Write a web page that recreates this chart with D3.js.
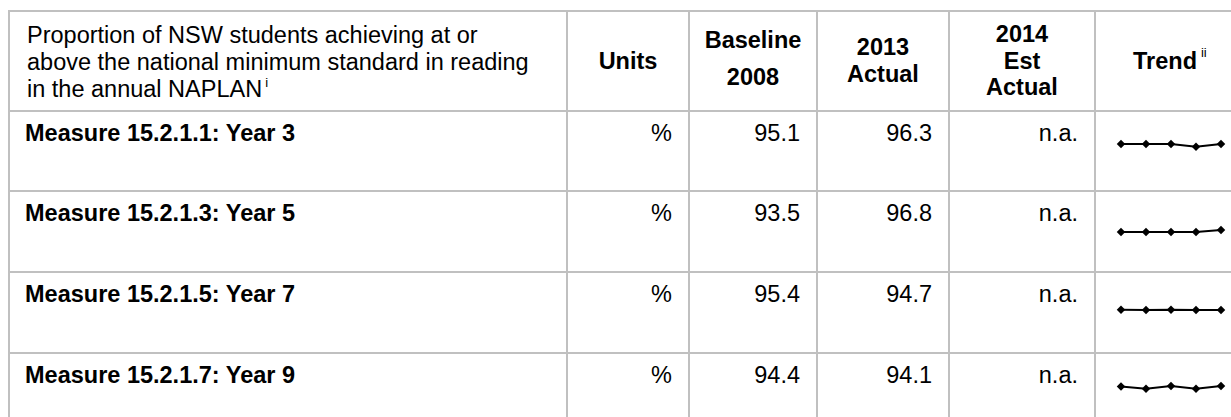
<!DOCTYPE html>
<html>
<head>
<meta charset="utf-8">
<script src="https://cdn.jsdelivr.net/npm/d3@7"></script>
<style>
  html, body { margin: 0; padding: 0; background: #fff; }
  svg { display: block; font-family: "Liberation Sans", Arial, sans-serif; }
</style>
</head>
<body>
<svg id="chart" width="1231" height="417"></svg>
<script>
// ---------- data ----------
const headerTitle = ["Proportion of NSW students achieving at or",
                     "above the national minimum standard in reading",
                     "in the annual NAPLAN"];
const columnHeads = [["Units"], ["Baseline", "2008"], ["2013", "Actual"], ["2014", "Est", "Actual"], ["Trend"]];
const measures = ["Measure 15.2.1.1: Year 3", "Measure 15.2.1.3: Year 5",
                  "Measure 15.2.1.5: Year 7", "Measure 15.2.1.7: Year 9"];
const units = ["%", "%", "%", "%"];
const baseline2008 = [95.1, 93.5, 95.4, 94.4];
const actual2013 = [96.3, 96.8, 94.7, 94.1];
const est2014 = ["n.a.", "n.a.", "n.a.", "n.a."];
const trendYears = [2009, 2010, 2011, 2012, 2013];
const trendYear3 = [96.3, 96.3, 96.3, 95.4, 96.3];
const trendYear5 = [96.1, 96.1, 96.1, 96.1, 96.8];
const trendYear7 = [94.8, 94.7, 94.8, 94.7, 94.7];
const trendYear9 = [93.9, 93.2, 94.1, 93.2, 94.1];
const trends = [trendYear3, trendYear5, trendYear7, trendYear9];

// ---------- layout ----------
const colX = [9, 567, 689, 817, 949, 1095, 1240];
const rowY = [11, 111, 191, 272, 353, 434];
const trendAnchor = [33, 39, 38, 33];   // vertical position of sparkline inside each row
const lineColor = "#c0c0c0";
const fs = 23.5;

const svg = d3.select("#chart");

// grid lines
const g = svg.append("g");
rowY.forEach(y => g.append("line").attr("x1", colX[0] - 1).attr("x2", 1231)
  .attr("y1", y).attr("y2", y).attr("stroke", lineColor).attr("stroke-width", 2));
colX.forEach(x => g.append("line").attr("x1", x).attr("x2", x)
  .attr("y1", rowY[0] - 1).attr("y2", 417).attr("stroke", lineColor).attr("stroke-width", 2));

// header title (first column)
const titleLines = [35, 62, 89];
headerTitle.forEach((t, i) => {
  const tx = svg.append("text").attr("x", 27).attr("y", titleLines[i]).attr("dy", "0.35em")
    .attr("font-size", fs).attr("fill", "#000").text(t);
  if (i === 2) {
    tx.append("tspan").attr("font-size", 13).attr("dy", "-0.75em").attr("dx", 3).text("i");
  }
});

// column headers
const headYs = [[61], [40, 77], [47, 74], [34, 61, 87], [61]];
columnHeads.forEach((lines, ci) => {
  const cx = ci === 4 ? 1165 : (colX[ci + 1] + colX[ci + 2]) / 2;
  lines.forEach((t, li) => {
    const tx = svg.append("text").attr("x", cx).attr("y", headYs[ci][li]).attr("dy", "0.35em")
      .attr("text-anchor", "middle").attr("font-size", fs).attr("font-weight", "bold")
      .attr("fill", "#000").text(t);
    if (ci === 4) {
      const w = tx.node().getComputedTextLength();
      svg.append("text").attr("x", cx + w / 2 + 4).attr("y", headYs[ci][li] - 4)
        .attr("font-size", 13).attr("fill", "#000").text("ii");
    }
  });
});

// body rows
const bodyCols = [units, baseline2008.map(d => d.toFixed(1)), actual2013.map(d => d.toFixed(1)), est2014];
measures.forEach((m, ri) => {
  const top = rowY[ri + 1];
  svg.append("text").attr("x", 25).attr("y", top + 22).attr("dy", "0.35em")
    .attr("font-size", fs).attr("font-weight", "bold").attr("fill", "#000").text(m);
  bodyCols.forEach((col, ci) => {
    svg.append("text").attr("x", colX[ci + 2] - 17).attr("y", top + 22).attr("dy", "0.35em")
      .attr("text-anchor", "end").attr("font-size", fs).attr("fill", "#000").text(col[ri]);
  });

  // sparkline
  const vals = trends[ri];
  const last = vals[vals.length - 1];
  const x = d3.scalePoint().domain(trendYears).range([colX[5] + 26, colX[5] + 126]);
  const a = top + trendAnchor[ri];
  const y = d3.scaleLinear().domain([last - 5, last + 5]).range([a + 15, a - 15]);
  const pts = trendYears.map((yr, i) => ({yr, v: vals[i]}));
  svg.append("path").datum(pts)
    .attr("d", d3.line().x(d => x(d.yr)).y(d => y(d.v)))
    .attr("fill", "none").attr("stroke", "#000").attr("stroke-width", 2);
  svg.selectAll(null).data(pts).enter().append("path")
    .attr("d", d3.symbol().type(d3.symbolSquare).size(36))
    .attr("transform", d => `translate(${x(d.yr)},${y(d.v)}) rotate(45)`)
    .attr("fill", "#000");
});
</script>
</body>
</html>
